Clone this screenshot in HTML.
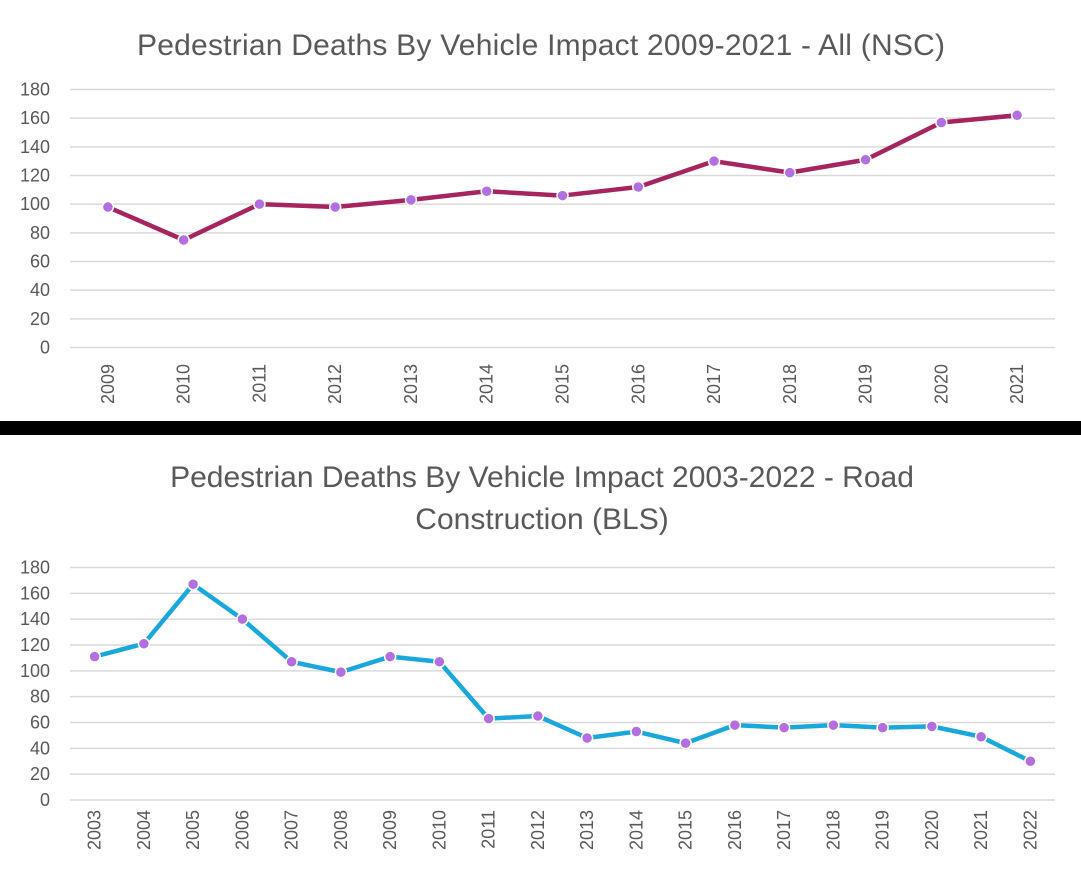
<!DOCTYPE html>
<html><head><meta charset="utf-8"><style>
body{margin:0;background:#fff;width:1081px;height:886px;overflow:hidden}
svg text{font-family:"Liberation Sans",sans-serif;fill:#595959}
</style></head><body>
<svg id="s" width="1081" height="886" xmlns="http://www.w3.org/2000/svg">
<text x="541" y="55" text-anchor="middle" font-size="30" textLength="808">Pedestrian Deaths By Vehicle Impact 2009-2021  - All (NSC)</text>
<rect x="0" y="421" width="1081" height="14" fill="#000"/>
<text x="542" y="487" text-anchor="middle" font-size="30">Pedestrian Deaths By Vehicle Impact 2003-2022 - Road</text>
<text x="542" y="529" text-anchor="middle" font-size="30">Construction (BLS)</text>
<g id="top"></g><g id="bot"></g>
</svg>
<script>
const topYears=["2009","2010","2011","2012","2013","2014","2015","2016","2017","2018","2019","2020","2021"];
const topValues=[98,75,100,98,103,109,106,112,130,122,131,157,162];
const botYears=["2003","2004","2005","2006","2007","2008","2009","2010","2011","2012","2013","2014","2015","2016","2017","2018","2019","2020","2021","2022"];
const botValues=[111,121,167,140,107,99,111,107,63,65,48,53,44,58,56,58,56,57,49,30];
const yTicks=[0,20,40,60,80,100,120,140,160,180];
const NS="http://www.w3.org/2000/svg";
function mk(t,a,p){const e=document.createElementNS(NS,t);for(const k in a)e.setAttribute(k,a[k]);p.appendChild(e);return e;}
function chart(g,cats,vals,y0,y180,color,prefix,labelY){
  const x0=70,x1=1055,step=(x1-x0)/cats.length;
  const xs=i=>x0+step*(i+0.5);
  const ys=v=>y0+(y180-y0)*v/180;
  yTicks.forEach(t=>{
    const l=mk('line',{x1:x0,x2:x1,y1:ys(t),y2:ys(t),stroke:'#d9d9d9','stroke-width':1.5},g);
    
    
    const tx=mk('text',{x:50,y:ys(t)+6,'text-anchor':'end','font-size':18},g);tx.textContent=t;
    
    
  });
  cats.forEach((c,i)=>{
    const tx=mk('text',{x:0,y:0,'text-anchor':'end','font-size':18,transform:`translate(${xs(i)+6},${labelY}) rotate(-90)`},g);tx.textContent=c;
    
    
  });
  const pl=mk('polyline',{points:vals.map((v,i)=>xs(i)+','+ys(v)).join(' '),fill:'none',stroke:color,'stroke-width':4.5,'stroke-linejoin':'round'},g);
  
  
  vals.forEach((v,i)=>{
    const c=mk('circle',{cx:xs(i),cy:ys(v),r:5.5,fill:'#b36ee0',stroke:'#fff','stroke-width':1.5},g);
    
    
  });
}
chart(document.getElementById('top'),topYears,topValues,347.5,89.5,'#a6245f','top',364);
chart(document.getElementById('bot'),botYears,botValues,800,567.5,'#1aa8dc','bottom',810);
</script>
</body></html>
